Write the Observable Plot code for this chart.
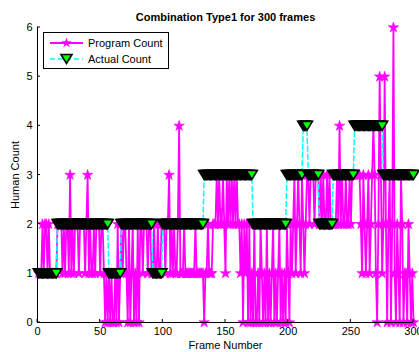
<!DOCTYPE html>
<html><head><meta charset="utf-8">
<script src="https://cdn.jsdelivr.net/npm/d3@7"></script>
<script src="https://cdn.jsdelivr.net/npm/@observablehq/plot@0.6"></script>
<style>body{margin:0;background:#fff} svg{display:block}</style>
</head><body><div id="chart"></div>
<script>
const title = "Combination Type1 for 300 frames";
const xLabel = "Frame Number";
const yLabel = "Human Count";
const seriesNames = ["Program Count", "Actual Count"];
const xTicks = [0, 50, 100, 150, 200, 250, 300];
const yTicks = [0, 1, 2, 3, 4, 5, 6];

const programCount = [
  1,1,1,2,1,2,2,1,2,1,
  1,1,1,1,1,2,2,2,2,1,
  2,1,2,2,1,3,1,2,1,2,
  2,2,1,2,2,2,2,1,2,3,
  1,2,1,1,2,1,2,2,2,1,
  2,2,1,0,1,0,1,0,1,0,
  0,1,0,2,0,1,2,1,2,2,
  1,0,2,0,1,2,0,1,0,2,
  0,2,2,1,2,2,2,1,2,2,
  1,1,2,1,1,2,1,1,2,2,
  2,1,2,2,3,1,2,1,2,1,
  1,2,4,1,1,1,2,1,1,1,
  1,1,1,1,1,2,1,1,1,1,
  1,1,0,1,1,2,1,1,1,2,
  2,2,3,2,3,2,2,3,2,1,
  3,2,3,2,3,2,3,2,3,2,
  2,1,2,0,2,1,2,0,2,0,
  1,0,2,0,0,1,0,2,1,0,
  1,0,2,0,1,0,1,2,0,1,
  0,1,2,0,1,0,1,0,2,1,
  0,2,1,2,3,1,2,3,2,1,
  3,2,1,2,3,3,2,3,3,3,
  2,3,3,3,2,3,2,3,2,2,
  3,2,3,2,2,2,2,2,3,2,
  4,2,3,2,2,3,2,2,3,2,
  3,3,3,3,3,3,3,2,1,3,
  2,1,2,3,1,2,3,4,3,1,
  0,2,5,3,1,2,5,2,0,2,
  3,0,2,6,1,0,2,1,0,3,
  2,0,1,1,0,2,1,0,1,0
];

const actualCount = [
  1,1,1,1,1,1,1,1,1,1,
  1,1,1,1,1,2,2,2,2,2,
  2,2,2,2,2,2,2,2,2,2,
  2,2,2,2,2,2,2,2,2,2,
  2,2,2,2,2,2,2,2,2,2,
  2,2,2,2,2,2,1,1,1,1,
  1,1,1,1,1,1,2,2,2,2,
  2,2,2,2,2,2,2,2,2,2,
  2,2,2,2,2,2,2,2,2,2,
  2,1,1,1,1,1,1,1,1,2,
  2,2,2,2,2,2,2,2,2,2,
  2,2,2,2,2,2,2,2,2,2,
  2,2,2,2,2,2,2,2,2,2,
  2,2,3,3,3,3,3,3,3,3,
  3,3,3,3,3,3,3,3,3,3,
  3,3,3,3,3,3,3,3,3,3,
  3,3,3,3,3,3,3,3,3,3,
  3,2,2,2,2,2,2,2,2,2,
  2,2,2,2,2,2,2,2,2,2,
  2,2,2,2,2,2,2,2,3,3,
  3,3,3,3,3,3,3,3,3,3,
  3,4,4,4,4,3,3,3,3,3,
  3,3,3,3,2,2,2,2,2,2,
  2,2,2,2,2,3,3,3,3,3,
  3,3,3,3,3,3,3,3,3,3,
  3,3,4,4,4,4,4,4,4,4,
  4,4,4,4,4,4,4,4,4,4,
  4,4,4,4,4,3,3,3,3,3,
  3,3,3,3,3,3,3,3,3,3,
  3,3,3,3,3,3,3,3,3,3
];

const frames = d3.range(1, programCount.length + 1);
const data = frames.map((f, i) => ({frame: f, program: programCount[i], actual: actualCount[i]}));

const triDown = {
  draw(ctx, size) {
    const r = Math.sqrt(size / Math.PI);
    ctx.moveTo(-r * 1.1, -r * 0.9);
    ctx.lineTo(r * 1.1, -r * 0.9);
    ctx.lineTo(0, r * 0.9);
    ctx.closePath();
  }
};

const font = "'Liberation Sans', Arial, sans-serif";

const plot = Plot.plot({
  width: 419, height: 352,
  marginLeft: 37, marginRight: 6, marginTop: 27, marginBottom: 30,
  style: {fontFamily: font, fontSize: "11px", background: "#fff", color: "#000", overflow: "visible"},
  x: {domain: [0, 300]},
  y: {domain: [0, 6]},
  marks: [
    Plot.line(data, {x: "frame", y: "program", stroke: "#ff00ff", strokeWidth: 1.8}),
    Plot.dot(data, {x: "frame", y: "program", symbol: "star", r: 3.3, fill: "#ff00ff", stroke: "#ff00ff", strokeWidth: 0.6}),
    Plot.line(data, {x: "frame", y: "actual", stroke: "#00ffff", strokeWidth: 1.5, strokeDasharray: "5,3"}),
    Plot.dot(data, {x: "frame", y: "actual", symbol: triDown, r: 5, fill: "#00ff00", stroke: "#000", strokeWidth: 1.6}),
    Plot.ruleX([0], {stroke: "#000"}),
    Plot.ruleY([0], {stroke: "#000"}),
    Plot.axisX({ticks: xTicks, tickFormat: "d", tickSize: 0, tickPadding: 5, label: xLabel, labelAnchor: "center", labelArrow: "none", labelOffset: 26}),
    Plot.axisY({ticks: yTicks, tickFormat: "d", tickSize: 0, tickPadding: 5, label: yLabel, labelAnchor: "center", labelArrow: "none", labelOffset: 26}),
    Plot.text([title], {frameAnchor: "top", dy: -14, fontWeight: "bold", fontSize: 11})
  ]
});

document.getElementById("chart").appendChild(plot);

// inward ticks
const svg = d3.select(plot);
const sx = plot.scale("x"), sy = plot.scale("y");
const x0 = sx.apply(0), y0 = sy.apply(0);
const tg = svg.append("g").attr("stroke", "#000").attr("stroke-width", 1);
xTicks.forEach(t => tg.append("line").attr("x1", sx.apply(t)).attr("x2", sx.apply(t)).attr("y1", y0).attr("y2", y0 - 3));
yTicks.forEach(t => tg.append("line").attr("x1", x0).attr("x2", x0 + 3).attr("y1", sy.apply(t)).attr("y2", sy.apply(t)));

// legend
const lg = svg.append("g").attr("font-family", font).attr("font-size", 11).attr("text-anchor", "start");
lg.append("rect").attr("x", 43.5).attr("y", 32.5).attr("width", 125).attr("height", 36)
  .attr("fill", "#fff").attr("stroke", "#000");
const rows = [43, 59];
lg.append("line").attr("x1", 50).attr("x2", 83).attr("y1", rows[0]).attr("y2", rows[0]).attr("stroke", "#ff00ff").attr("stroke-width", 1.8);
lg.append("path").attr("d", d3.symbol(d3.symbolStar, Math.PI * 3.3 * 3.3)()).attr("transform", `translate(66.5,${rows[0]})`).attr("fill", "#ff00ff");
lg.append("line").attr("x1", 50).attr("x2", 83).attr("y1", rows[1]).attr("y2", rows[1]).attr("stroke", "#00ffff").attr("stroke-width", 1.5).attr("stroke-dasharray", "5,3");
lg.append("path").attr("d", d3.symbol(triDown, Math.PI * 25)()).attr("transform", `translate(66.5,${rows[1]})`).attr("fill", "#00ff00").attr("stroke", "#000").attr("stroke-width", 1.6);
seriesNames.forEach((n, i) => lg.append("text").attr("x", 88).attr("y", rows[i]).attr("dy", "0.35em").attr("text-anchor", "start").text(n));
</script>
</body></html>
